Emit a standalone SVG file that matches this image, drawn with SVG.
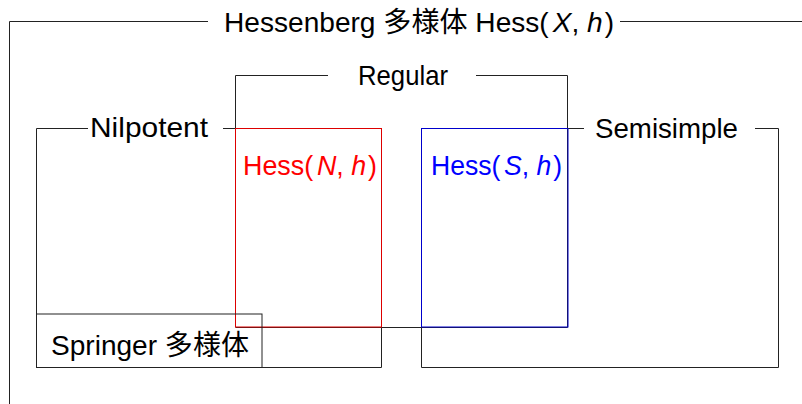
<svg xmlns="http://www.w3.org/2000/svg" width="802" height="404" viewBox="0 0 802 404">
<style>
.ln{fill:none;stroke:#222;stroke-width:1}
.t{font-family:"Liberation Sans","Noto Sans CJK JP",sans-serif;font-size:28.5px;fill:#000}
.i{font-style:italic}
.red{fill:#ff0000}
.blue{fill:#0000ff}
</style>
<rect width="802" height="404" fill="#fff"/>
<g id="connectors">
</g>
<g id="hessenberg">
<path class="ln" d="M208,21.5 H9.5 V404 M620,21.5 H802"/>
<text class="t" x="224" y="32" textLength="390" lengthAdjust="spacingAndGlyphs">Hessenberg 多様体 Hess(<tspan class="i" dx="4">X</tspan>, <tspan class="i">h</tspan><tspan dx="2">)</tspan></text>
</g>
<g id="nilpotent">
<path class="ln" d="M88,128.5 H36.5 V367.5 H381.5 V327 M223,128.5 H236"/>
<text class="t" x="90" y="137" textLength="118" lengthAdjust="spacingAndGlyphs">Nilpotent</text>
</g>
<g id="semisimple">
<path class="ln" d="M567,128.5 H584 M755,128.5 H778.5 V367.5 H421.5 V327"/>
<text class="t" x="595" y="138" textLength="143" lengthAdjust="spacingAndGlyphs">Semisimple</text>
</g>
<g id="regular">
<path class="ln" d="M328,75.5 H235.5 V128 M476,75.5 H567.5 V327.5 H235.5"/>
<text class="t" x="358" y="85" textLength="90" lengthAdjust="spacingAndGlyphs">Regular</text>
</g>
<g id="hessN">
<rect x="235.5" y="128.5" width="146" height="198.5" fill="none" stroke="#dd0000" stroke-width="1"/>
<text class="t red" x="243" y="175" textLength="134" lengthAdjust="spacingAndGlyphs">Hess(<tspan class="i" dx="4">N</tspan>, <tspan class="i">h</tspan><tspan dx="2">)</tspan></text>
</g>
<g id="hessS">
<rect x="421.5" y="128.5" width="146.5" height="198.5" fill="none" stroke="#0000cc" stroke-width="1"/>
<text class="t blue" x="431" y="175" textLength="131" lengthAdjust="spacingAndGlyphs">Hess(<tspan class="i" dx="4">S</tspan>, <tspan class="i">h</tspan><tspan dx="2">)</tspan></text>
</g>
<g id="springer">
<rect x="36.5" y="314" width="225.5" height="53.5" fill="none" stroke="#222" stroke-width="1"/>
<text class="t" x="51" y="355" textLength="198" lengthAdjust="spacingAndGlyphs">Springer 多様体</text>
</g>
</svg>
